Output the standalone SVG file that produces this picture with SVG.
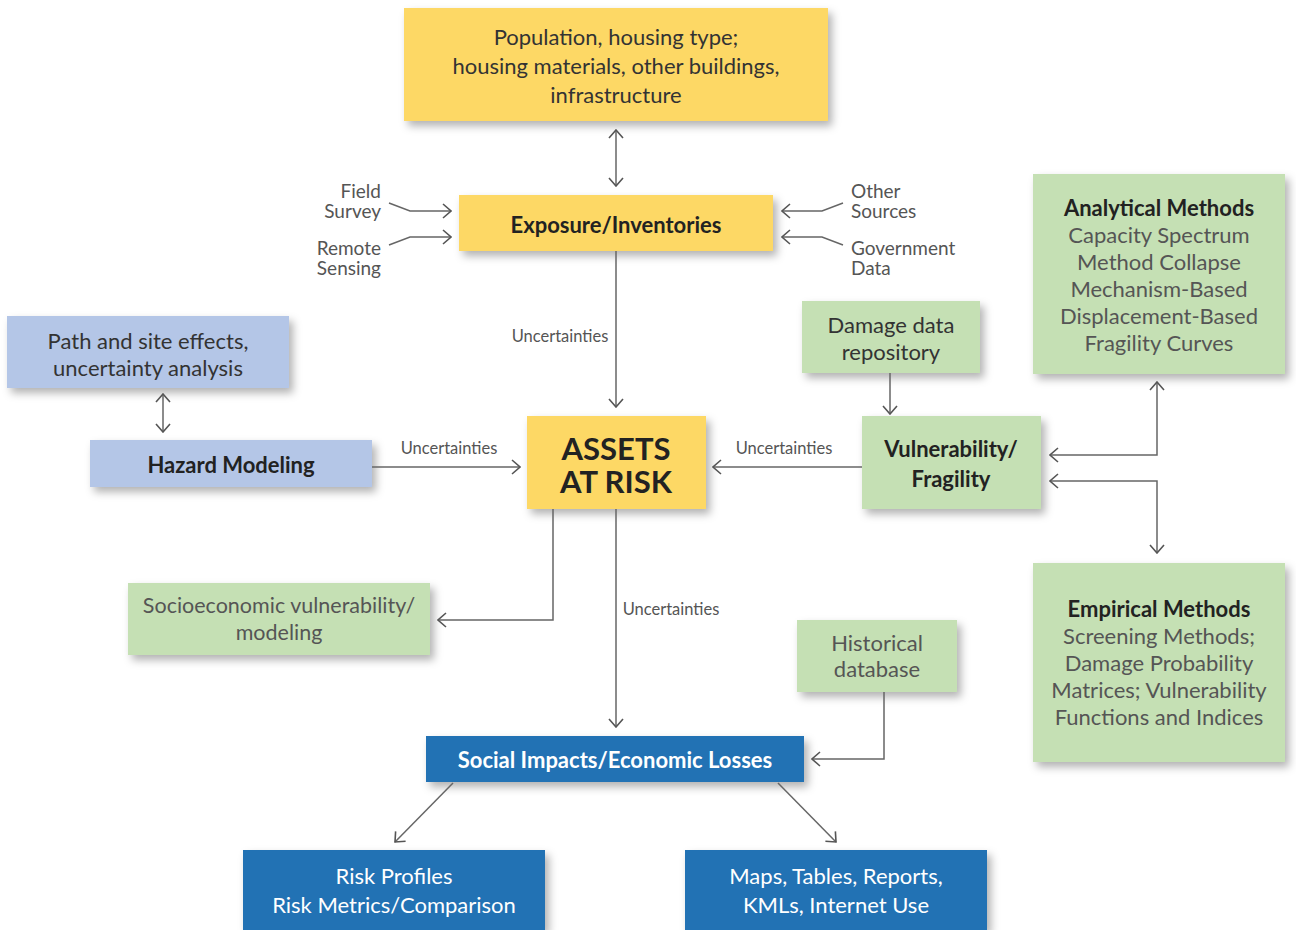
<svg xmlns="http://www.w3.org/2000/svg" width="1296" height="930" viewBox="0 0 1296 930">
<defs>
<filter id="sh" x="-10%" y="-20%" width="125%" height="150%">
<feDropShadow dx="4" dy="5" stdDeviation="4" flood-color="#000" flood-opacity="0.3"/>
</filter>
<marker id="ah" viewBox="0 0 10 16" refX="9" refY="8" markerWidth="10" markerHeight="16" markerUnits="userSpaceOnUse" orient="auto-start-reverse">
<path d="M1,1 L9,8 L1,15" fill="none" stroke="#555" stroke-width="1.6"/>
</marker>
</defs>
<style>
text{font-family:Lato,"Noto Sans","Liberation Sans",sans-serif;text-anchor:middle;dominant-baseline:central}
tspan{dominant-baseline:central}
.y{fill:#FDD865}
.g{fill:#C5E0B4}
.lb{fill:#B4C6E7}
.db{fill:#2272B4}
.t{font-size:22px;fill:#333}
.tg{font-size:22px;fill:#555}
.b{font-size:22px;font-weight:bold;fill:#222}
.w{font-size:22px;fill:#fff}
.wb{font-size:22px;fill:#fff;font-weight:bold}
.u{font-size:16.5px;fill:#555}
.s{font-size:19px;fill:#555}
.c{fill:none;stroke:#666;stroke-width:1.5}
</style>
<rect width="1296" height="930" fill="#fff"/>

<g id="population">
<rect class="y" x="404" y="8" width="424" height="113" filter="url(#sh)"/>
<text class="t"><tspan x="616" y="36">Population, housing type;</tspan><tspan x="616" y="65">housing materials, other buildings,</tspan><tspan x="616" y="94">infrastructure</tspan></text>
</g>
<g id="exposure">
<rect class="y" x="459" y="195" width="314" height="56" filter="url(#sh)"/>
<text class="b" x="616" y="224">Exposure/Inventories</text>
</g>
<g id="field-survey">
<text class="s" style="text-anchor:end"><tspan x="381" y="190">Field</tspan><tspan x="381" y="210">Survey</tspan></text>
</g>
<g id="remote-sensing">
<text class="s" style="text-anchor:end"><tspan x="381" y="247">Remote</tspan><tspan x="381" y="267">Sensing</tspan></text>
</g>
<g id="other-sources">
<text class="s" style="text-anchor:start"><tspan x="851" y="190">Other</tspan><tspan x="851" y="210">Sources</tspan></text>
</g>
<g id="government-data">
<text class="s" style="text-anchor:start"><tspan x="851" y="247">Government</tspan><tspan x="851" y="267">Data</tspan></text>
</g>
<g id="assets">
<rect class="y" x="527" y="416" width="179" height="93" filter="url(#sh)"/>
<text style="font-size:31px;font-weight:bold;fill:#222"><tspan x="616" y="448">ASSETS</tspan><tspan x="616" y="481">AT RISK</tspan></text>
</g>
<g id="path-site">
<rect class="lb" x="7" y="316" width="282" height="72" filter="url(#sh)"/>
<text class="t"><tspan x="148" y="340">Path and site effects,</tspan><tspan x="148" y="367">uncertainty analysis</tspan></text>
</g>
<g id="hazard">
<rect class="lb" x="90" y="440" width="282" height="47" filter="url(#sh)"/>
<text class="b" x="231" y="464">Hazard Modeling</text>
</g>
<g id="damage-data">
<rect class="g" x="802" y="301" width="178" height="72" filter="url(#sh)"/>
<text class="t"><tspan x="891" y="324">Damage data</tspan><tspan x="891" y="351">repository</tspan></text>
</g>
<g id="vulnerability">
<rect class="g" x="862" y="416" width="179" height="93" filter="url(#sh)"/>
<text class="b"><tspan x="951" y="448">Vulnerability/</tspan><tspan x="951" y="478">Fragility</tspan></text>
</g>
<g id="analytical">
<rect class="g" x="1033" y="174" width="252" height="200" filter="url(#sh)"/>
<text class="tg"><tspan x="1159" y="207" style="font-weight:bold;fill:#222">Analytical Methods</tspan><tspan x="1159" y="234">Capacity Spectrum</tspan><tspan x="1159" y="261">Method Collapse</tspan><tspan x="1159" y="288">Mechanism-Based</tspan><tspan x="1159" y="315">Displacement-Based</tspan><tspan x="1159" y="342">Fragility Curves</tspan></text>
</g>
<g id="empirical">
<rect class="g" x="1033" y="563" width="252" height="199" filter="url(#sh)"/>
<text class="tg"><tspan x="1159" y="608" style="font-weight:bold;fill:#222">Empirical Methods</tspan><tspan x="1159" y="635">Screening Methods;</tspan><tspan x="1159" y="662">Damage Probability</tspan><tspan x="1159" y="689">Matrices; Vulnerability</tspan><tspan x="1159" y="716">Functions and Indices</tspan></text>
</g>
<g id="socioeconomic">
<rect class="g" x="128" y="583" width="302" height="72" filter="url(#sh)"/>
<text class="tg" style="font-size:21.5px"><tspan x="279" y="605">Socioeconomic vulnerability/</tspan><tspan x="279" y="632">modeling</tspan></text>
</g>
<g id="historical">
<rect class="g" x="797" y="620" width="160" height="72" filter="url(#sh)"/>
<text class="tg"><tspan x="877" y="642">Historical</tspan><tspan x="877" y="668">database</tspan></text>
</g>
<g id="social-impacts">
<rect class="db" x="426" y="736" width="378" height="46" filter="url(#sh)"/>
<text class="wb" x="615" y="759">Social Impacts/Economic Losses</text>
</g>
<g id="risk-profiles">
<rect class="db" x="243" y="850" width="302" height="80" filter="url(#sh)"/>
<text class="w"><tspan x="394" y="875">Risk Profiles</tspan><tspan x="394" y="904">Risk Metrics/Comparison</tspan></text>
</g>
<g id="maps">
<rect class="db" x="685" y="850" width="302" height="80" filter="url(#sh)"/>
<text class="w"><tspan x="836" y="875">Maps, Tables, Reports,</tspan><tspan x="836" y="904">KMLs, Internet Use</tspan></text>
</g>

<g id="connectors">
<path class="c" d="M616,130 V186" marker-start="url(#ah)" marker-end="url(#ah)"/>
<path class="c" d="M389,203 L410,211 H451" marker-end="url(#ah)"/>
<path class="c" d="M389,245 L410,237 H451" marker-end="url(#ah)"/>
<path class="c" d="M843,203 L822,211 H782" marker-end="url(#ah)"/>
<path class="c" d="M843,245 L822,237 H782" marker-end="url(#ah)"/>
<path class="c" d="M616,251 V407" marker-end="url(#ah)"/>
<text class="u" x="560" y="336">Uncertainties</text>
<path class="c" d="M163,394 V432" marker-start="url(#ah)" marker-end="url(#ah)"/>
<path class="c" d="M372,467 H520" marker-end="url(#ah)"/>
<text class="u" x="449" y="448">Uncertainties</text>
<path class="c" d="M862,467 H713" marker-end="url(#ah)"/>
<text class="u" x="784" y="448">Uncertainties</text>
<path class="c" d="M890,373 V414" marker-end="url(#ah)"/>
<path class="c" d="M1157,382 V455 H1050" marker-start="url(#ah)" marker-end="url(#ah)"/>
<path class="c" d="M1050,481 H1157 V553" marker-start="url(#ah)" marker-end="url(#ah)"/>
<path class="c" d="M553,509 V620 H438" marker-end="url(#ah)"/>
<path class="c" d="M616,509 V727" marker-end="url(#ah)"/>
<text class="u" x="671" y="609">Uncertainties</text>
<path class="c" d="M884,692 V759 H812" marker-end="url(#ah)"/>
<path class="c" d="M453,783 L395,842" marker-end="url(#ah)"/>
<path class="c" d="M778,783 L836,842" marker-end="url(#ah)"/>
</g>
</svg>
